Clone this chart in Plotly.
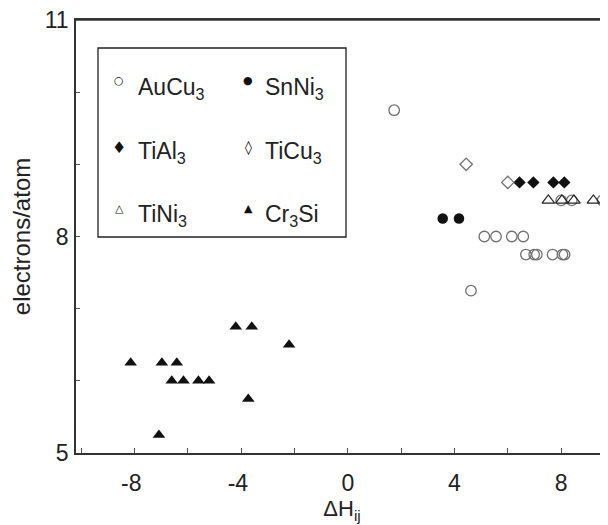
import plotly.graph_objects as go

# ---------------- data ----------------
aucu3_x = [1.74, 5.12, 5.56, 6.15, 6.58, 6.68, 6.99, 7.09, 7.68, 8.05, 8.13, 4.62, 8.0, 8.4, 9.55]
aucu3_y = [9.75, 8.0, 8.0, 8.0, 8.0, 7.75, 7.75, 7.75, 7.75, 7.75, 7.75, 7.25, 8.5, 8.5, 8.5]

snni3_x = [3.56, 4.17]
snni3_y = [8.25, 8.25]

tial3_x = [6.44, 6.96, 7.71, 8.12]
tial3_y = [8.75, 8.75, 8.75, 8.75]

ticu3_x = [4.44, 6.0]
ticu3_y = [9.0, 8.75]

tini3_x = [7.52, 8.03, 8.48, 9.21]
tini3_y = [8.5, 8.5, 8.5, 8.5]

cr3si_x = [-8.14, -6.97, -6.41, -6.6, -6.16, -5.6, -5.2, -4.2, -3.6, -2.2, -3.73, -7.08]
cr3si_y = [6.25, 6.25, 6.25, 6.0, 6.0, 6.0, 6.0, 6.75, 6.75, 6.5, 5.75, 5.25]

x_tickvals = [-10, -8, -6, -4, -2, 0, 2, 4, 6, 8]
x_ticktext = ["", "-8\u00a0", "", "-4\u00a0", "", "0", "", "4", "", "8"]
y_tickvals = [5, 6, 7, 8, 9, 10, 11]
y_ticktext = ["5", "", "", "8", "", "", "11"]

legend_symbols = ["\u25CB", "\u25CF", "\u2666", "\u25CA", "\u25B3", "\u25B2"]
legend_labels = ["AuCu<sub>3</sub>", "SnNi<sub>3</sub>", "TiAl<sub>3</sub>",
                 "TiCu<sub>3</sub>", "TiNi<sub>3</sub>", "Cr<sub>3</sub>Si"]

# ---------------- layout geometry ----------------
OFF = 8                      # page body margin of the html page
W, H = 608 - OFF, 525 - OFF
L, R, T, B = 76 - OFF, 0, 20 - OFF, 72
PW, PH = W - L - R, H - T - B
FONT = "Liberation Sans, Arial, Helvetica, sans-serif"
TXT = "#222222"


def px(x, y):
    """page pixel -> paper coordinates"""
    return (x - OFF - L) / PW, (H - B - (y - OFF)) / PH


fig = go.Figure()

GRAY = "#707070"
fig.add_trace(go.Scatter(x=aucu3_x, y=aucu3_y, mode="markers", name="AuCu3",
                         marker=dict(symbol="circle-open", size=10.5, color=GRAY, line=dict(width=1.3))))
fig.add_trace(go.Scatter(x=snni3_x, y=snni3_y, mode="markers", name="SnNi3",
                         marker=dict(symbol="circle", size=10.5, color="#111111")))
fig.add_trace(go.Scatter(x=tial3_x, y=tial3_y, mode="markers", name="TiAl3",
                         marker=dict(symbol="diamond", size=9.5, color="#111111")))
fig.add_trace(go.Scatter(x=ticu3_x, y=ticu3_y, mode="markers", name="TiCu3",
                         marker=dict(symbol="diamond-open", size=9.5, color=GRAY, line=dict(width=1.3))))
fig.add_trace(go.Scatter(x=tini3_x, y=tini3_y, mode="markers", name="TiNi3",
                         marker=dict(symbol="triangle-up-open", size=11, color="#222222", line=dict(width=1.2))))
fig.add_trace(go.Scatter(x=cr3si_x, y=cr3si_y, mode="markers", name="Cr3Si",
                         marker=dict(symbol="triangle-up", size=11, color="#111111")))

# ---------------- top frame line ----------------
fig.add_shape(type="line", xref="paper", yref="paper", x0=0, x1=1, y0=1, y1=1,
              line=dict(color="#333333", width=1.5))

# ---------------- legend box (manual, two columns) ----------------
x0, y0 = px(98, 48)
x1, y1 = px(346, 237)
fig.add_shape(type="rect", xref="paper", yref="paper", x0=x0, y0=y1, x1=x1, y1=y0,
              line=dict(color="#222222", width=1.3), fillcolor="rgba(0,0,0,0)")

sym_cols = [119, 248]
txt_cols = [136, 263]
row_txt_y = [88, 152, 215]
row_sym_y = [80, 147, 208]
sym_sizes = [11, 11, 16, 14, 11, 11]
for i, (s, lab) in enumerate(zip(legend_symbols, legend_labels)):
    r, c = divmod(i, 2)
    sx, sy = px(sym_cols[c], row_sym_y[r])
    fig.add_annotation(x=sx, y=sy, xref="paper", yref="paper", text=s, showarrow=False,
                       xanchor="center", yanchor="middle",
                       font=dict(family="DejaVu Sans", size=sym_sizes[i], color="#111111"))
    tx, ty = px(txt_cols[c], row_txt_y[r])
    fig.add_annotation(x=tx, y=ty, xref="paper", yref="paper", text=lab, showarrow=False,
                       xanchor="left", yanchor="middle",
                       font=dict(family=FONT, size=23, color=TXT))

fig.update_layout(
    width=W, height=H,
    margin=dict(l=L, r=R, t=T, b=B, pad=0),
    paper_bgcolor="white", plot_bgcolor="white",
    showlegend=False,
    font=dict(family=FONT, size=23, color=TXT),
    xaxis=dict(range=[-10.19, -10.19 + PW / 26.67], tickvals=x_tickvals, ticktext=x_ticktext,
               ticks="inside", ticklen=5, tickwidth=1, tickcolor="#555555",
               showline=True, linecolor="#333333", linewidth=1.5, mirror=True,
               showgrid=False, zeroline=False, ticklabeloverflow="allow",
               tickfont=dict(size=23, color=TXT), ticklabelstandoff=9,
               title=dict(text="\u0394H<sub>ij</sub>", font=dict(size=22, color=TXT), standoff=4)),
    yaxis=dict(range=[5, 11], tickvals=y_tickvals, ticktext=y_ticktext,
               ticks="inside", ticklen=4, tickwidth=1, tickcolor="#555555",
               showline=True, linecolor="#333333", linewidth=1.5, mirror=False,
               showgrid=False, zeroline=False, ticklabeloverflow="allow",
               tickfont=dict(size=23, color=TXT), ticklabelstandoff=1,
               title=dict(text="electrons/atom", font=dict(size=24, color=TXT), standoff=16)),
)

fig.write_html("out.html")
